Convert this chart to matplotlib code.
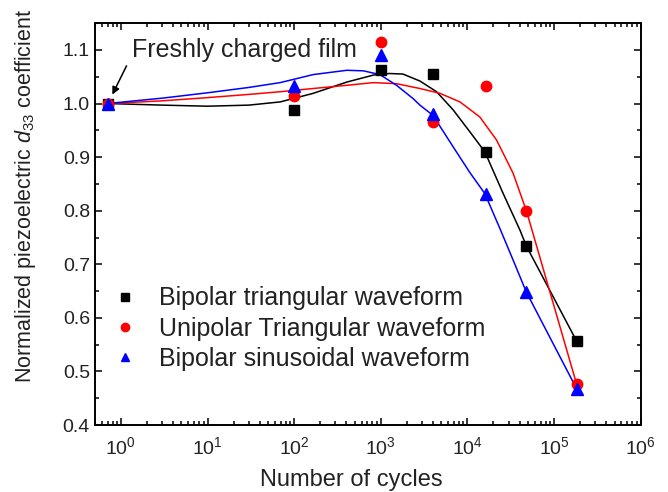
"""
Normalized piezoelectric d33 coefficient vs. number of fatigue cycles
for three driving waveforms (measured points + fitted curves)
"""

import numpy as np
import matplotlib
matplotlib.use("Agg")
import matplotlib.pyplot as plt
from matplotlib.ticker import FixedLocator, MultipleLocator, NullFormatter

plt.rcParams['font.family'] = ['Liberation Sans', 'DejaVu Sans']
plt.rcParams['mathtext.fontset'] = 'custom'
plt.rcParams['mathtext.rm'] = 'Liberation Sans'
plt.rcParams['mathtext.it'] = 'Liberation Sans:italic'

# measured points
cycles = [0.7, 100, 1000, 4050, 16300, 48000, 182000]
bipolar_tri = [1.000, 0.988, 1.062, 1.056, 0.910, 0.734, 0.557]
unipolar_tri = [1.000, 1.014, 1.115, 0.965, 1.032, 0.800, 0.477]
bipolar_sin = [1.000, 1.032, 1.091, 0.980, 0.831, 0.648, 0.468]

# fitted curves
fit_tri_x = [0.7, 3, 10, 30, 69, 166, 405, 820, 1260, 1800, 2830, 4410,
             6860, 10700, 15900, 25900, 40400, 48000, 182000]
fit_tri_y = [1.000, 0.997, 0.995, 0.997, 1.003, 1.019, 1.040, 1.053, 1.056, 1.055, 1.042, 1.022,
             0.988, 0.947, 0.910, 0.832, 0.764, 0.734, 0.557]

fit_uni_x = [0.7, 3, 10, 30, 69, 166, 405, 820, 1520, 2830, 4820, 8200,
             13900, 21700, 33700, 48000, 182000]
fit_uni_y = [1.000, 1.005, 1.011, 1.017, 1.022, 1.028, 1.034, 1.039, 1.037, 1.028, 1.019, 1.003,
             0.975, 0.932, 0.870, 0.800, 0.477]

fit_sin_x = [0.7, 3, 10, 30, 69, 166, 405, 629, 977, 1520, 2370, 2830, 4000,
             6860, 10700, 15900, 23700, 33700, 48000, 182000]
fit_sin_y = [1.000, 1.010, 1.020, 1.030, 1.039, 1.054, 1.062, 1.061, 1.054, 1.034, 1.009, 0.997, 0.978,
             0.919, 0.871, 0.832, 0.767, 0.708, 0.648, 0.468]

decades = [1, 10, 100, 1000, 1e4, 1e5, 1e6]
minor_cycles = [m * d for d in [0.1, 1, 10, 100, 1000, 1e4, 1e5] for m in range(2, 10)]
minor_cycles = [v for v in minor_cycles if v >= 0.5]

text_color = '#222222'

fig = plt.figure(figsize=(6.68, 4.92), dpi=100)
ax = fig.add_axes([0.142, 0.136, 0.817, 0.817])

ax.plot(fit_tri_x, fit_tri_y, color='black', linewidth=1.1)
ax.plot(fit_uni_x, fit_uni_y, color='red', linewidth=1.1)
ax.plot(fit_sin_x, fit_sin_y, color='blue', linewidth=1.1)

ax.plot(cycles, bipolar_tri, linestyle='none', marker='s', markersize=6.5,
        color='black', label='Bipolar triangular waveform')
ax.plot(cycles, unipolar_tri, linestyle='none', marker='o', markersize=7.5,
        color='red', label='Unipolar Triangular waveform')
ax.plot(cycles, bipolar_sin, linestyle='none', marker='^', markersize=8,
        color='blue', label='Bipolar sinusoidal waveform')

ax.set_xscale('log')
ax.set_xlim(0.5, 1e6)
ax.set_ylim(0.4, 1.15)
ax.xaxis.set_major_locator(FixedLocator(decades))
ax.xaxis.set_minor_locator(FixedLocator(minor_cycles))
ax.xaxis.set_minor_formatter(NullFormatter())
ax.yaxis.set_major_locator(MultipleLocator(0.1))
ax.yaxis.set_minor_locator(MultipleLocator(0.05))

ax.tick_params(which='both', direction='in', top=True, right=True,
               labelsize=14, labelcolor=text_color, width=1.1)
ax.tick_params(which='major', length=5)
ax.tick_params(which='minor', length=3)
ax.tick_params(axis='x', which='major', pad=8)
for sp in ax.spines.values():
    sp.set_linewidth(1.4)

ax.set_xlabel('Number of cycles', fontsize=17, color=text_color)
ax.xaxis.set_label_coords(0.469, -0.108)
ax.set_ylabel('Normalized piezoelectric $d_{33}$ coefficient', fontsize=15.5, color=text_color)
ax.yaxis.set_label_coords(-0.105, 0.57)

ax.text(1.34, 1.10, 'Freshly charged film', fontsize=18, color=text_color,
        ha='left', va='center')
ax.annotate('', xy=(0.77, 1.012), xytext=(1.2, 1.075),
            arrowprops=dict(arrowstyle='-|>', color='black', lw=1.1,
                            mutation_scale=11))

leg = ax.legend(loc='upper left', bbox_to_anchor=(0.003, 0.37), frameon=False,
                fontsize=18, handletextpad=0.6, labelspacing=0.25,
                markerscale=0.8, handlelength=1.5, borderaxespad=0)
for t in leg.get_texts():
    t.set_color(text_color)

fig.savefig('out.png', dpi=100)
